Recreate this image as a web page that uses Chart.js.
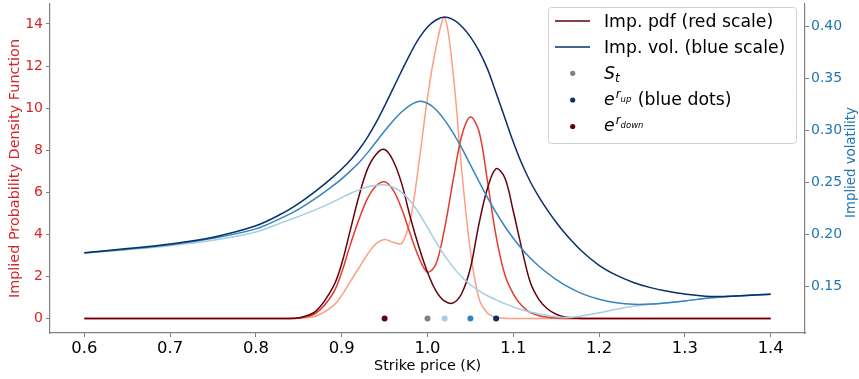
<!DOCTYPE html>
<html>
<head>
<meta charset="utf-8">
<script src="https://cdn.jsdelivr.net/npm/chart.js@4.4.0/dist/chart.umd.min.js"></script>
<style>
  html, body { margin: 0; padding: 0; background: #fff; }
</style>
</head>
<body>
<canvas id="myChart" width="859" height="379"></canvas>
<script>
// strike grid shared by every curve
const strikes = [0.60, 0.65, 0.70, 0.75, 0.80, 0.83, 0.85, 0.87, 0.89,
  0.90, 0.91, 0.92, 0.93, 0.94, 0.95, 0.96, 0.97, 0.98, 0.99,
  1.00, 1.01, 1.02, 1.03, 1.04, 1.05, 1.06, 1.07, 1.08, 1.09,
  1.10, 1.11, 1.12, 1.13, 1.14, 1.15, 1.16,
  1.18, 1.20, 1.22, 1.24, 1.26, 1.28, 1.30, 1.33, 1.36, 1.40];

// implied pdf, one per up-scenario (1.02, 1.05, 1.08)
const pdfLow = [0, 0, 0, 0, 0, 0, 0.01, 0.12, 0.6,
  1.1, 1.75, 2.4, 3.05, 3.55, 3.76, 3.62, 3.58, 4.7, 7.4,
  10.5, 12.9, 14.3, 11.6, 7.0, 3.21, 0.95, 0.25, 0.06, 0.01,
  0, 0, 0, 0, 0, 0, 0,
  0, 0, 0, 0, 0, 0, 0, 0, 0, 0];
const pdfMid = [0, 0, 0, 0, 0, 0, 0.02, 0.25, 1.2,
  2.2, 3.5, 4.7, 5.7, 6.3, 6.5, 6.1, 5.2, 4.0, 2.9,
  2.2, 2.6, 4.3, 6.6, 8.7, 9.58, 8.9, 6.5, 3.9, 2.1,
  1.17, 0.6, 0.28, 0.13, 0.06, 0.02, 0,
  0, 0, 0, 0, 0, 0, 0, 0, 0, 0];
const pdfHigh = [0, 0, 0, 0, 0, 0, 0.03, 0.35, 1.5,
  2.6, 4.2, 5.8, 7.1, 7.8, 8.03, 7.5, 6.4, 4.8, 3.4,
  2.2, 1.3, 0.82, 0.74, 1.2, 2.4, 4.5, 6.2, 7.12, 6.7,
  5.1, 3.3, 1.7, 0.9, 0.45, 0.2, 0.07,
  0, 0, 0, 0, 0, 0, 0, 0, 0, 0];

// implied volatility, same scenarios
const volLow = [0.1822, 0.1855, 0.1893, 0.1945, 0.2025, 0.2115, 0.2175, 0.2240, 0.2315,
  0.2355, 0.2395, 0.2430, 0.2458, 0.2475, 0.2478, 0.2455, 0.2405, 0.2320, 0.2205,
  0.2068, 0.1928, 0.1798, 0.1685, 0.1592, 0.1518, 0.1460, 0.1412, 0.1372, 0.1336,
  0.1305, 0.1278, 0.1255, 0.1237, 0.1222, 0.1210, 0.1202,
  0.1218, 0.1248, 0.1282, 0.1310, 0.1330, 0.1345, 0.1362, 0.1392, 0.1410, 0.1427];
const volMid = [0.1824, 0.1860, 0.1903, 0.1965, 0.2055, 0.2160, 0.2245, 0.2350, 0.2470,
  0.2535, 0.2610, 0.2690, 0.2785, 0.2890, 0.2995, 0.3095, 0.3180, 0.3245, 0.3280,
  0.3262, 0.3200, 0.3100, 0.2975, 0.2830, 0.2670, 0.2510, 0.2355, 0.2210, 0.2080,
  0.1965, 0.1862, 0.1772, 0.1695, 0.1628, 0.1568, 0.1515,
  0.1432, 0.1378, 0.1345, 0.1330, 0.1332, 0.1345, 0.1362, 0.1392, 0.1410, 0.1427];
const volHigh = [0.1826, 0.1865, 0.1910, 0.1975, 0.2085, 0.2200, 0.2300, 0.2420, 0.2555,
  0.2630, 0.2715, 0.2815, 0.2935, 0.3075, 0.3235, 0.3405, 0.3575, 0.3740, 0.3885,
  0.3995, 0.4062, 0.4090, 0.4065, 0.4000, 0.3900, 0.3765, 0.3590, 0.3360, 0.3125,
  0.2890, 0.2680, 0.2505, 0.2360, 0.2232, 0.2118, 0.2015,
  0.1840, 0.1705, 0.1610, 0.1540, 0.1490, 0.1455, 0.1428, 0.1405, 0.1410, 0.1427];

// dots on the zero line: e^r_down, S_t, e^r_up (x3)
const markerStrikes = [0.95, 1.00, 1.02, 1.05, 1.08];
const markerLevels = [0, 0, 0, 0, 0];
const markerColors = ["#67000d", "#808080", "#a6cde3", "#3484bf", "#08306b"];

const xTicks = [0.6, 0.7, 0.8, 0.9, 1.0, 1.1, 1.2, 1.3, 1.4];
const pdfTicks = [0, 2, 4, 6, 8, 10, 12, 14];
const volTicks = [0.15, 0.20, 0.25, 0.30, 0.35, 0.40];

const FONT = "DejaVu Sans";
const RED = "#d62728";
const BLUE = "#1f77b4";
const SPINE = "#808080";

const pts = (xs, ys) => xs.map((x, i) => ({ x: x, y: ys[i] }));
const fixTicks = vals => scale => { scale.ticks = vals.map(v => ({ value: v })); };

function curve(data, color, axis, order) {
  return {
    data: pts(strikes, data),
    borderColor: color,
    borderWidth: 1.5,
    pointRadius: 0,
    tension: 0.35,
    yAxisID: axis,
    order: order,
  };
}

// matplotlib-like legend with mathtext entries, drawn on the canvas
const legendPlugin = {
  id: "mplLegend",
  afterDraw(chart) {
    const ctx = chart.ctx;
    ctx.save();
    ctx.beginPath();
    ctx.roundRect(548.5, 7.5, 248, 136, 3);
    ctx.fillStyle = "rgba(255,255,255,0.85)";
    ctx.fill();
    ctx.strokeStyle = "#d0d0d0";
    ctx.lineWidth = 1;
    ctx.stroke();

    const tx = 604, big = "17.3px " + FONT;
    ctx.textBaseline = "alphabetic";
    ctx.textAlign = "left";
    ctx.fillStyle = "#000";

    // line entries
    [["#67000d", 21, "Imp. pdf (red scale)"], ["#08306b", 47, "Imp. vol. (blue scale)"]].forEach(r => {
      ctx.beginPath();
      ctx.moveTo(555, r[1]);
      ctx.lineTo(590, r[1]);
      ctx.strokeStyle = r[0];
      ctx.lineWidth = 1.5;
      ctx.stroke();
      ctx.font = big;
      ctx.fillText(r[2], tx, r[1] + 6.3);
    });

    // dot entries
    const dot = (y, c) => {
      ctx.beginPath();
      ctx.arc(572.7, y, 2.6, 0, Math.PI * 2);
      ctx.fillStyle = c;
      ctx.fill();
      ctx.fillStyle = "#000";
    };
    dot(73.3, "#808080");
    dot(100, "#08306b");
    dot(126.5, "#67000d");

    // S_t
    ctx.font = "italic " + big;
    ctx.fillText("S", tx, 78.5);
    let x = tx + ctx.measureText("S").width;
    ctx.font = "italic 12px " + FONT;
    ctx.fillText("t", x, 81.7);

    // e^{r_up} (blue dots), e^{r_down}
    [[105, "up", " (blue dots)"], [131, "down", ""]].forEach(r => {
      ctx.font = "italic " + big;
      ctx.fillText("e", tx, r[0]);
      let px = tx + ctx.measureText("e").width + 1;
      ctx.font = "italic 12px " + FONT;
      ctx.fillText("r", px, r[0] - 7);
      px += ctx.measureText("r").width;
      ctx.font = "italic 8.5px " + FONT;
      ctx.fillText(r[1], px, r[0] - 3.5);
      px += ctx.measureText(r[1]).width;
      if (r[2]) {
        ctx.font = big;
        ctx.fillText(r[2], px + 1, r[0]);
      }
    });

    // right axis title, reading bottom to top like the left one
    ctx.translate(855, 162.5);
    ctx.rotate(-Math.PI / 2);
    ctx.font = "13.3px " + FONT;
    ctx.fillStyle = BLUE;
    ctx.textAlign = "center";
    ctx.fillText("Implied volatility", 0, 0);
    ctx.restore();
  },
};

const ctx = document.getElementById("myChart").getContext("2d");
const myChart = new Chart(ctx, {
  type: "line",
  data: {
    datasets: [
      {
        data: pts(markerStrikes, markerLevels),
        showLine: false,
        pointRadius: 3,
        pointBorderWidth: 0,
        pointBackgroundColor: markerColors,
        pointBorderColor: markerColors,
        yAxisID: "yPdf",
        order: -1,
      },
      curve(volHigh, "#08306b", "yVol", 0),
      curve(volMid, "#3484bf", "yVol", 1),
      curve(volLow, "#a6cde3", "yVol", 2),
      curve(pdfHigh, "#67000d", "yPdf", 3),
      curve(pdfMid, "#e53b2e", "yPdf", 4),
      curve(pdfLow, "#fc9f81", "yPdf", 5),
    ],
  },
  options: {
    responsive: false,
    animation: false,
    devicePixelRatio: 1,
    layout: { padding: 0 },
    plugins: { legend: { display: false }, tooltip: { enabled: false } },
    scales: {
      x: {
        type: "linear",
        min: 0.56,
        max: 1.44,
        afterBuildTicks: fixTicks(xTicks),
        afterFit: s => { s.height = 46; s.paddingLeft = 0; s.paddingRight = 0; },
        grid: { drawOnChartArea: false, tickLength: 4, color: SPINE },
        border: { color: SPINE, width: 1.2 },
        ticks: {
          color: "#000",
          font: { family: FONT, size: 16.4 },
          padding: 2,
          maxRotation: 0,
          autoSkip: false,
          callback: v => v.toFixed(1),
        },
        title: {
          display: true,
          text: "Strike price (K)",
          color: "#000",
          font: { family: FONT, size: 14.4 },
          padding: { top: 0, bottom: 3.7 },
        },
      },
      yPdf: {
        position: "left",
        min: -0.69,
        max: 14.95,
        afterBuildTicks: fixTicks(pdfTicks),
        afterFit: s => { s.width = 50; s.paddingTop = 0; s.paddingBottom = 0; },
        grid: { drawOnChartArea: false, tickLength: 4, color: SPINE },
        border: { color: SPINE, width: 1.2 },
        ticks: {
          color: RED,
          font: { family: FONT, size: 14 },
          padding: 3,
          callback: v => String(v),
        },
        title: {
          display: true,
          text: "Implied Probability Density Function",
          color: RED,
          font: { family: FONT, size: 14.4 },
          padding: { top: 6.4, bottom: 0 },
        },
      },
      yVol: {
        position: "right",
        min: 0.1054,
        max: 0.4216,
        afterBuildTicks: fixTicks(volTicks),
        afterFit: s => { s.width = 54; s.paddingTop = 0; s.paddingBottom = 0; },
        grid: { drawOnChartArea: false, tickLength: 4, color: SPINE },
        border: { color: SPINE, width: 1.2 },
        ticks: {
          color: BLUE,
          font: { family: FONT, size: 14 },
          padding: 2,
          callback: v => v.toFixed(2),
        },
      },
    },
  },
  plugins: [legendPlugin],
});
</script>
</body>
</html>
